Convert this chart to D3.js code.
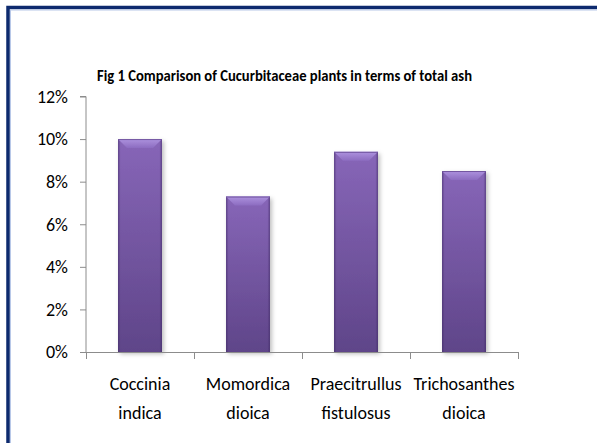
<!DOCTYPE html>
<html>
<head>
<meta charset="utf-8">
<script src="https://cdn.jsdelivr.net/npm/d3@7"></script>
<style>
  html, body { margin: 0; padding: 0; background: #fff; }
  svg { display: block; }
</style>
</head>
<body>
<div id="chart"></div>
<script>
const plants = ["Coccinia indica", "Momordica dioica", "Praecitrullus fistulosus", "Trichosanthes dioica"]
const plantLines = [["Coccinia", "indica"], ["Momordica", "dioica"], ["Praecitrullus", "fistulosus"], ["Trichosanthes", "dioica"]]
const totalAsh = [0.100, 0.073, 0.094, 0.085]
const yTicks = [0, 0.02, 0.04, 0.06, 0.08, 0.10, 0.12]
const title = "Fig 1 Comparison of Cucurbitaceae plants in terms of total ash"

const width = 597
const height = 443
const plot = { left: 86, right: 518, top: 96.5, bottom: 352 }
const labelFont = "Carlito, Calibri, Lato, 'Liberation Sans', sans-serif"

const svg = d3.select("#chart")
  .append("svg")
  .attr("width", width)
  .attr("height", height)

const defs = svg.append("defs")

const bodyGrad = defs.append("linearGradient")
  .attr("id", "barBody")
  .attr("x1", 0).attr("y1", 0).attr("x2", 0).attr("y2", 1)
bodyGrad.append("stop").attr("offset", "0%").attr("stop-color", "#8766b8")
bodyGrad.append("stop").attr("offset", "100%").attr("stop-color", "#5f4589")

const sideGrad = defs.append("linearGradient")
  .attr("id", "barSide")
  .attr("x1", 0).attr("y1", 0).attr("x2", 1).attr("y2", 0)
sideGrad.append("stop").attr("offset", "0%").attr("stop-color", "#3f2a63").attr("stop-opacity", 0.55)
sideGrad.append("stop").attr("offset", "6%").attr("stop-color", "#3f2a63").attr("stop-opacity", 0)
sideGrad.append("stop").attr("offset", "94%").attr("stop-color", "#3f2a63").attr("stop-opacity", 0)
sideGrad.append("stop").attr("offset", "100%").attr("stop-color", "#3f2a63").attr("stop-opacity", 0.55)

const bevelGrad = defs.append("linearGradient")
  .attr("id", "barBevel")
  .attr("x1", 0).attr("y1", 0).attr("x2", 0).attr("y2", 1)
bevelGrad.append("stop").attr("offset", "0%").attr("stop-color", "#ad92de")
bevelGrad.append("stop").attr("offset", "100%").attr("stop-color", "#8c6cc0")

const shadow = defs.append("filter")
  .attr("id", "barShadow")
  .attr("x", "-20%").attr("y", "-10%").attr("width", "150%").attr("height", "130%")
shadow.append("feDropShadow")
  .attr("dx", 2).attr("dy", 2).attr("stdDeviation", 2)
  .attr("flood-color", "#000").attr("flood-opacity", 0.25)

// frame
svg.append("path")
  .attr("d", `M8,${height} V7.5 H${width}`)
  .attr("fill", "none")
  .attr("stroke", "#0d2a6e")
  .attr("stroke-width", 3.5)
svg.append("path")
  .attr("d", `M10.5,${height} V10 H${width}`)
  .attr("fill", "none")
  .attr("stroke", "#b8c8e8")
  .attr("stroke-width", 1)

const x = d3.scaleBand()
  .domain(plants)
  .range([plot.left, plot.right])
  .paddingInner(0.5926)
  .paddingOuter(0.2963)

const y = d3.scaleLinear()
  .domain([0, 0.12])
  .range([plot.bottom, plot.top])

// title
svg.append("text")
  .attr("x", 97)
  .attr("y", 80.5)
  .attr("textLength", 375)
  .attr("lengthAdjust", "spacingAndGlyphs")
  .style("font-family", labelFont)
  .style("font-weight", "bold")
  .style("font-size", "16.5px")
  .style("fill", "#000")
  .text(title)

// y axis
const yAxis = svg.append("g")
  .attr("transform", `translate(${plot.left},0)`)
  .call(d3.axisLeft(y).tickValues(yTicks).tickSize(6).tickPadding(12).tickFormat(d3.format(".0%")))
yAxis.select(".domain").attr("stroke", "#8c8c8c").attr("d", `M-6,${plot.top}H0V${plot.bottom}`)
yAxis.selectAll(".tick line").attr("stroke", "#8c8c8c")
yAxis.selectAll(".tick text")
  .style("font-family", labelFont)
  .style("font-size", "18px")
  .style("fill", "#000")

// bars
const bars = svg.append("g")
  .selectAll("g")
  .data(plants)
  .join("g")

bars.append("rect")
  .attr("x", d => x(d))
  .attr("y", (d, i) => y(totalAsh[i]))
  .attr("width", x.bandwidth())
  .attr("height", (d, i) => y(0) - y(totalAsh[i]))
  .attr("fill", "url(#barBody)")
  .attr("filter", "url(#barShadow)")

bars.append("rect")
  .attr("x", d => x(d))
  .attr("y", (d, i) => y(totalAsh[i]))
  .attr("width", x.bandwidth())
  .attr("height", (d, i) => y(0) - y(totalAsh[i]))
  .attr("fill", "url(#barSide)")

bars.append("path")
  .attr("d", (d, i) => {
    const x0 = x(d)
    const x1 = x0 + x.bandwidth()
    const top = y(totalAsh[i])
    const bevel = 9
    return `M${x0},${top}H${x1}L${x1 - bevel},${top + bevel}H${x0 + bevel}Z`
  })
  .attr("fill", "url(#barBevel)")

bars.append("line")
  .attr("x1", d => x(d))
  .attr("x2", d => x(d) + x.bandwidth())
  .attr("y1", (d, i) => y(totalAsh[i]) + 0.5)
  .attr("y2", (d, i) => y(totalAsh[i]) + 0.5)
  .attr("stroke", "#7256a0")
  .attr("stroke-width", 1)

// x axis
const step = x.step()
const boundaries = d3.range(plants.length + 1).map(i => plot.left + i * step)
const xAxis = svg.append("g")
xAxis.append("line")
  .attr("x1", plot.left).attr("x2", plot.right)
  .attr("y1", plot.bottom + 0.5).attr("y2", plot.bottom + 0.5)
  .attr("stroke", "#8c8c8c")
xAxis.selectAll(".xtick")
  .data(boundaries)
  .join("line")
  .attr("class", "xtick")
  .attr("x1", d => d + 0.5).attr("x2", d => d + 0.5)
  .attr("y1", plot.bottom).attr("y2", plot.bottom + 7)
  .attr("stroke", "#8c8c8c")

const labels = svg.append("g")
  .selectAll("text")
  .data(plants)
  .join("text")
  .attr("text-anchor", "middle")
  .style("font-family", labelFont)
  .style("font-size", "18px")
  .style("fill", "#000")

labels.selectAll("tspan")
  .data((d, i) => plantLines[i].map(t => ({ t, cx: x(d) + x.bandwidth() / 2 })))
  .join("tspan")
  .attr("x", d => d.cx)
  .attr("y", (d, j) => 390 + j * 29)
  .text(d => d.t)
</script>
</body>
</html>
